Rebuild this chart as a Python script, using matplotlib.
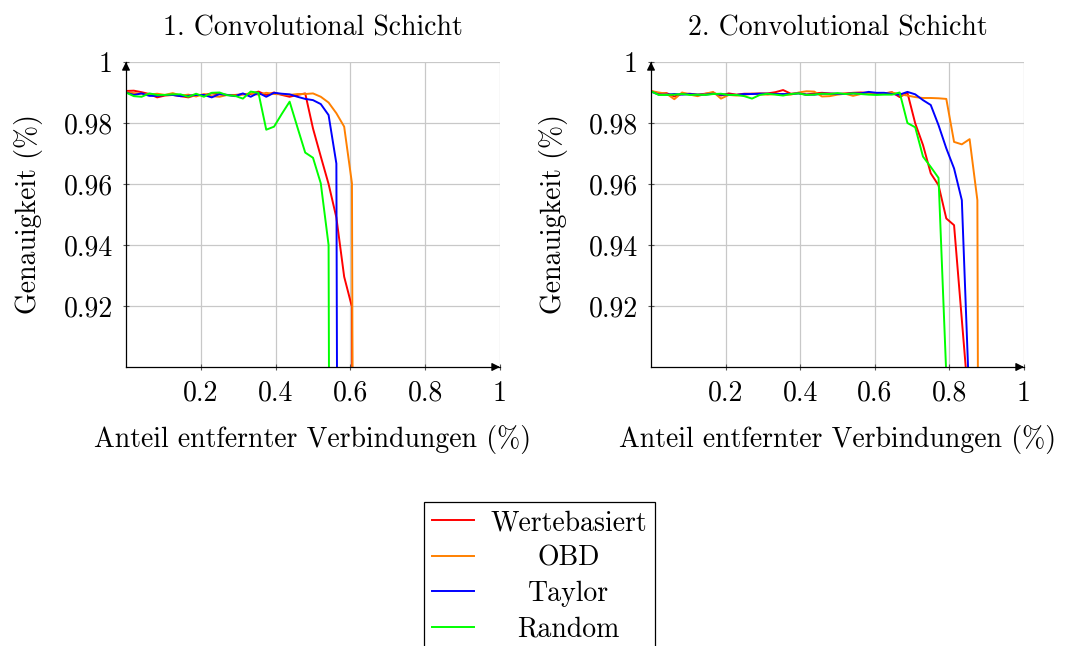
import numpy as np
import matplotlib
matplotlib.use("Agg")
from matplotlib import pyplot as plt

# schrittweite: anteil entfernter verbindungen in 1/48-schritten
n_steps = 48

titles = ["1. Convolutional Schicht", "2. Convolutional Schicht"]
methods = ["Wertebasiert", "OBD", "Taylor", "Random"]
colors = ["#ff0000", "#ff8000", "#0000ff", "#00ff00"]

xticks = [0.2, 0.4, 0.6, 0.8, 1.0]
xticklabels = ["0.2", "0.4", "0.6", "0.8", "1"]
yticks = [0.92, 0.94, 0.96, 0.98, 1.0]
yticklabels = ["0.92", "0.94", "0.96", "0.98", "1"]

# 1. conv schicht
conv1_wertebasiert = [0.9905, 0.9906, 0.9901, 0.9895, 0.9884, 0.9890, 0.9892, 0.9888,
                      0.9884, 0.9892, 0.9892, 0.9897, 0.9894, 0.9892, 0.9892, 0.9894,
                      0.9895, 0.9903, 0.9892, 0.9900, 0.9892, 0.9886, 0.9892, 0.9897,
                      0.9782, 0.9690, 0.9600, 0.9490, 0.9296, 0.9197, 0.1000]
conv1_obd = [0.9900, 0.9898, 0.9896, 0.9893, 0.9896, 0.9892, 0.9898, 0.9890,
             0.9893, 0.9887, 0.9895, 0.9888, 0.9886, 0.9892, 0.9890, 0.9894,
             0.9897, 0.9893, 0.9899, 0.9895, 0.9894, 0.9892, 0.9895, 0.9895,
             0.9897, 0.9886, 0.9867, 0.9832, 0.9788, 0.9602, 0.1000]
conv1_taylor = [0.9900, 0.9892, 0.9897, 0.9889, 0.9889, 0.9892, 0.9892, 0.9888,
                0.9889, 0.9892, 0.9892, 0.9884, 0.9895, 0.9892, 0.9888, 0.9897,
                0.9886, 0.9899, 0.9886, 0.9899, 0.9896, 0.9894, 0.9886, 0.9879,
                0.9875, 0.9862, 0.9826, 0.9667, 0.1000]
conv1_random = [0.9900, 0.9888, 0.9886, 0.9897, 0.9892, 0.9892, 0.9894, 0.9894,
                0.9886, 0.9896, 0.9886, 0.9899, 0.9900, 0.9891, 0.9889, 0.9880,
                0.9903, 0.9899, 0.9778, 0.9788, 0.9830, 0.9870, 0.9786, 0.9703,
                0.9686, 0.9602, 0.9400, 0.1000]

# 2. conv schicht
conv2_wertebasiert = [0.9905, 0.9896, 0.9898, 0.9887, 0.9896, 0.9896, 0.9893, 0.9896,
                      0.9899, 0.9890, 0.9897, 0.9893, 0.9896, 0.9896, 0.9897, 0.9897,
                      0.9901, 0.9908, 0.9896, 0.9898, 0.9893, 0.9897, 0.9899, 0.9897,
                      0.9895, 0.9897, 0.9899, 0.9900, 0.9899, 0.9898, 0.9897, 0.9901,
                      0.9885, 0.9899, 0.9799, 0.9728, 0.9635, 0.9596, 0.9487, 0.9465,
                      0.9155, 0.8845, 0.1000]
conv2_obd = [0.9905, 0.9900, 0.9896, 0.9878, 0.9900, 0.9893, 0.9888, 0.9896,
             0.9902, 0.9880, 0.9892, 0.9890, 0.9892, 0.9896, 0.9894, 0.9893,
             0.9895, 0.9893, 0.9893, 0.9900, 0.9904, 0.9903, 0.9887, 0.9888,
             0.9893, 0.9896, 0.9889, 0.9895, 0.9896, 0.9897, 0.9896, 0.9900,
             0.9894, 0.9890, 0.9885, 0.9882, 0.9882, 0.9881, 0.9879, 0.9738,
             0.9730, 0.9747, 0.9547, 0.1000]
conv2_taylor = [0.9903, 0.9893, 0.9893, 0.9895, 0.9893, 0.9895, 0.9893, 0.9893,
                0.9896, 0.9893, 0.9893, 0.9892, 0.9895, 0.9895, 0.9896, 0.9896,
                0.9895, 0.9895, 0.9895, 0.9897, 0.9893, 0.9893, 0.9896, 0.9896,
                0.9896, 0.9895, 0.9897, 0.9897, 0.9902, 0.9899, 0.9899, 0.9895,
                0.9893, 0.9902, 0.9894, 0.9875, 0.9859, 0.9793, 0.9717, 0.9651,
                0.9547, 0.8863, 0.1000]
conv2_random = [0.9904, 0.9892, 0.9892, 0.9893, 0.9895, 0.9892, 0.9893, 0.9892,
                0.9895, 0.9896, 0.9892, 0.9892, 0.9888, 0.9880, 0.9892, 0.9896,
                0.9893, 0.9890, 0.9895, 0.9897, 0.9892, 0.9893, 0.9896, 0.9895,
                0.9898, 0.9895, 0.9897, 0.9895, 0.9893, 0.9892, 0.9893, 0.9893,
                0.9900, 0.9800, 0.9786, 0.9690, 0.9656, 0.9620, 0.8974, 0.1000]

layers = [
    [conv1_wertebasiert, conv1_obd, conv1_taylor, conv1_random],
    [conv2_wertebasiert, conv2_obd, conv2_taylor, conv2_random],
]

plt.rcParams["font.family"] = "cmr10"
plt.rcParams["mathtext.fontset"] = "cm"
plt.rcParams["axes.formatter.use_mathtext"] = True
fs = 20

fig = plt.figure(figsize=(10.65, 6.46), dpi=100)
axes = [
    fig.add_axes([126 / 1065, 1 - 367 / 646, 374 / 1065, 305 / 646]),
    fig.add_axes([651 / 1065, 1 - 367 / 646, 373 / 1065, 305 / 646]),
]

for ax, title, series in zip(axes, titles, layers):
    for name, color, y in zip(methods, colors, series):
        x = np.arange(len(y)) / n_steps
        ax.plot(x, y, color=color, lw=1.4, label=name)
    ax.set_xlim(0, 1)
    ax.set_ylim(0.9, 1.0)
    ax.set_xticks(xticks)
    ax.set_xticklabels(xticklabels, fontsize=fs)
    ax.set_yticks(yticks)
    ax.set_yticklabels(yticklabels, fontsize=fs)
    ax.tick_params(direction="inout", length=5, width=0.8, color="#555555", pad=7)
    ax.grid(True, color="#c8c8c8", lw=0.9)
    ax.set_axisbelow(True)
    for side in ["top", "right"]:
        ax.spines[side].set_visible(False)
    for side in ["left", "bottom"]:
        ax.spines[side].set_linewidth(0.9)
    ax.annotate("", xy=(1.0, 0), xytext=(0.98, 0), xycoords="axes fraction",
                arrowprops=dict(arrowstyle="-|>", color="black", lw=0.9,
                                mutation_scale=12, shrinkA=0, shrinkB=0),
                annotation_clip=False)
    ax.annotate("", xy=(0, 1.0), xytext=(0, 0.98), xycoords="axes fraction",
                arrowprops=dict(arrowstyle="-|>", color="black", lw=0.9,
                                mutation_scale=12, shrinkA=0, shrinkB=0),
                annotation_clip=False)
    ax.set_title(title, fontsize=fs, pad=19)
    ax.set_xlabel("Anteil entfernter Verbindungen (%)", fontsize=fs, labelpad=13)
    ax.set_ylabel("Genauigkeit (%)", fontsize=fs, labelpad=15)

handles, labels = axes[0].get_legend_handles_labels()
leg = fig.legend(handles, labels, loc="upper center",
                 bbox_to_anchor=(539.5 / 1065, 1 - 502 / 646),
                 fontsize=fs, frameon=True, fancybox=False, edgecolor="black",
                 framealpha=1, handlelength=1.5, handletextpad=0.6,
                 labelspacing=0.33, borderpad=0.28, borderaxespad=0)
leg.get_frame().set_linewidth(0.9)

# legendentexte zentrieren wie in pgfplots
fig.canvas.draw()
renderer = fig.canvas.get_renderer()
widths = [t.get_window_extent(renderer).width for t in leg.get_texts()]
wmax = max(widths)
for t, w in zip(leg.get_texts(), widths):
    t.set_x((wmax - w) / 2)

fig.savefig("out.png", dpi=100)
